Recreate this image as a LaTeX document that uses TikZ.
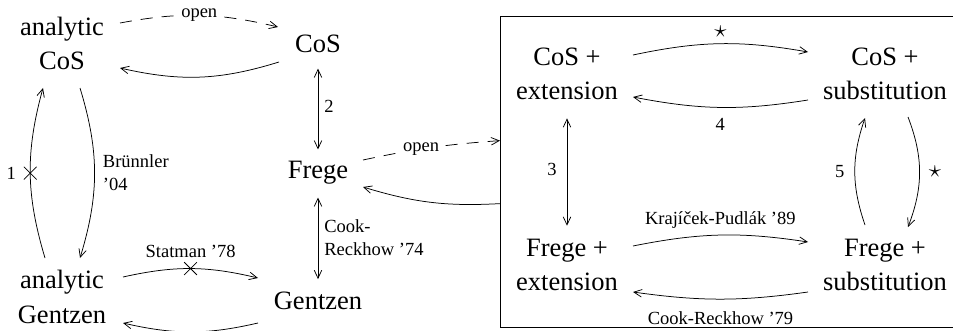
\documentclass[tikz,border=0pt]{standalone}
\usepackage{fontspec}
\setmainfont{Liberation Serif}
\usetikzlibrary{arrows.meta,shapes.misc}
\tikzset{
sys/.style={align=center,inner sep=0pt,font={\fontsize{26.5pt}{34.5pt}\selectfont}},
line/.style={-{Straight Barb[length=8pt,width=7.5pt]},line width=0.75pt},
dline/.style={line,dash pattern=on 12pt off 9pt},
both/.style={{Straight Barb[length=8pt,width=7.5pt]}-{Straight Barb[length=8pt,width=7.5pt]},line width=0.75pt},
lbl/.style={font={\fontsize{18.5pt}{23pt}\selectfont},inner sep=2pt},
star/.style={font={\fontsize{24pt}{24pt}\selectfont},inner sep=1pt},
nope/.style={cross out,draw,line width=0.75pt,minimum size=12pt,inner sep=0pt}
}
\begin{document}
\begin{tikzpicture}[x=1pt,y=1pt]
\useasboundingbox (0,0) rectangle (953,330);
% left part
\node[sys] (aCoS) at (62,286.5) {analytic\\CoS};
\node[sys] (CoS) at (318,286.5) {CoS};
\node[sys] (Frege) at (318,157.8) {Frege};
\node[sys] (Gentzen) at (318,28.8) {Gentzen};
\node[sys] (aGentzen) at (62,33) {analytic\\Gentzen};
% the box
\node[draw,line width=0.75pt,minimum width=456pt,minimum height=311pt,anchor=south west] (strong) at (500,2) {};
\node[sys] (CoSext) at (567,256) {CoS +\\extension};
\node[sys] (CoSsub) at (885,256) {CoS +\\substitution};
\node[sys] (Fregeext) at (567,65) {Frege +\\extension};
\node[sys] (Fregesub) at (885,65) {Frege +\\substitution};

\draw[dline] ([shift={(58,20.5)}]aCoS.center) to[bend left=12] node[lbl,fill=white,pos=0.5] {open} ([shift={(-40,16.5)}]CoS.center);
\draw[line] ([shift={(-39,-18.5)}]CoS.center) to[bend left=15] ([shift={(58,-24.5)}]aCoS.center);
\draw[both,shorten <=16pt,shorten >=11pt] (CoS) -- node[lbl,right=4pt] {2} (Frege);
\draw[both,shorten <=13.6pt,shorten >=13pt] (Frege) -- node[lbl,right=4pt,align=left] {Cook-\\Reckhow '74} (Gentzen);
\draw[line] ([shift={(-17,39)}]aGentzen.center) to[bend left=16] node[nope] {} node[lbl,left=12pt] {1} ([shift={(-19,-44.5)}]aCoS.center);
\draw[line] ([shift={(18,-44.5)}]aCoS.center) to[bend left=17] node[lbl,right=6pt,align=left] {Brünnler\\'04} ([shift={(18,39)}]aGentzen.center);
\draw[line] ([shift={(61,20)}]aGentzen.center) to[bend left=13] node[nope] {} node[lbl,above=9pt] {Statman '78} ([shift={(-60,23.2)}]Gentzen.center);
\draw[line] ([shift={(-60,-21.8)}]Gentzen.center) to[bend left=13] ([shift={(61,-26)}]aGentzen.center);
% Frege and the box
\draw[dline] ([shift={(45,12.2)}]Frege.center) to[bend left=4] node[lbl,fill=white,pos=0.42] {open} ([yshift=31.5pt]strong.west);
\draw[line] ([yshift=-31.5pt]strong.west) to[bend left=10] ([shift={(45,-14.8)}]Frege.center);
% inside the box
\draw[line] ([shift={(66,19)}]CoSext.center) to[bend left=11] node[star,above=5pt] {$\star$} ([shift={(-77,22)}]CoSsub.center);
\draw[line] ([shift={(-77,-26)}]CoSsub.center) to[bend left=10] node[lbl,below=9pt] {4} ([shift={(66,-23)}]CoSext.center);
\draw[both,shorten <=18pt,shorten >=13pt] (CoSext) -- node[lbl,left=8pt] {3} (Fregeext);
\draw[line] ([shift={(-20,40)}]Fregesub.center) to[bend left=19] node[lbl,left=8pt] {5} ([shift={(-20,-44)}]CoSsub.center);
\draw[line] ([shift={(23,-43)}]CoSsub.center) to[bend left=21] node[star,right=8pt] {$\star$} ([shift={(23,38)}]Fregesub.center);
\draw[line] ([shift={(66,19)}]Fregeext.center) to[bend left=10] node[lbl,above=4pt] {Krajíček-Pudlák '89} ([shift={(-77,23)}]Fregesub.center);
\draw[line] ([shift={(-77,-27)}]Fregesub.center) to[bend left=8] node[lbl,below=10pt] {Cook-Reckhow '79} ([shift={(66,-27)}]Fregeext.center);
\end{tikzpicture}
\end{document}
